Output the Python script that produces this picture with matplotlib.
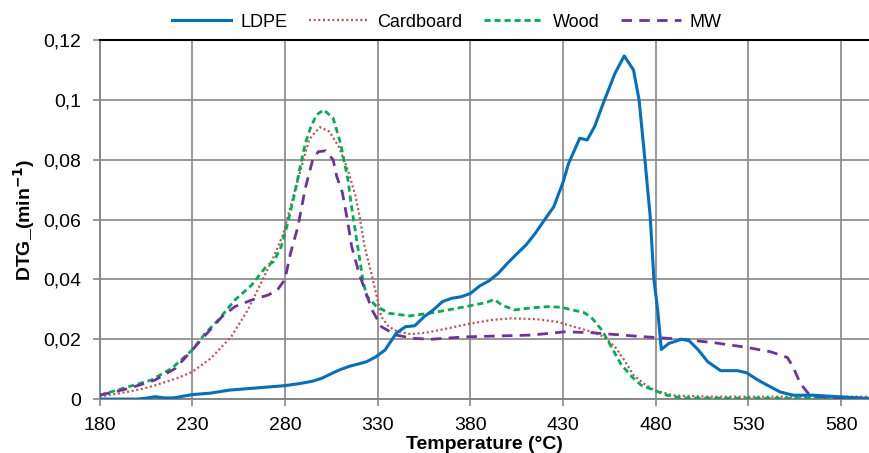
import matplotlib
matplotlib.use('Agg')
from matplotlib import pyplot as plt
from matplotlib.ticker import FuncFormatter

plt.rcParams['font.family'] = ['Liberation Sans', 'DejaVu Sans']

# LDPE
ldpe_t = [180, 190, 200, 205, 210, 215, 220, 230, 240, 250, 260, 270, 280, 288, 295, 300, 305, 310, 315, 320,
          324, 329, 334, 340, 345, 350, 355, 360, 365, 370, 375, 380, 385, 390, 395, 400, 405, 410, 415, 420,
          425, 430, 433, 439, 443, 447, 452, 458, 463, 468, 471, 474, 477, 479, 481, 483, 487, 494, 498, 503,
          508, 515, 524, 529, 535, 540, 547, 554, 565, 578, 595]
ldpe_v = [0, 0, 0, 0.0003, 0.0008, 0.0004, 0.0004, 0.0015, 0.002, 0.003, 0.0035, 0.004, 0.0045, 0.0052, 0.006,
          0.007, 0.0085, 0.0099, 0.011, 0.0118, 0.0125, 0.0141, 0.0164, 0.022, 0.0242, 0.0245, 0.0275, 0.0298,
          0.0326, 0.0337, 0.0342, 0.0353, 0.0378, 0.0395, 0.042, 0.0454, 0.0485, 0.0515, 0.0554, 0.0599, 0.0643,
          0.0725, 0.0788, 0.0872, 0.0866, 0.0911, 0.0994, 0.1089, 0.1147, 0.110, 0.100, 0.081, 0.061, 0.040,
          0.030, 0.0166, 0.0186, 0.020, 0.0195, 0.0164, 0.0125, 0.0095, 0.0095, 0.0088, 0.0064, 0.0047, 0.0024,
          0.0013, 0.0013, 0.0008, 0.0002]

# Cardboard
card_t = [180, 195, 205, 213, 222, 230, 240, 251, 260, 267, 274, 279, 282, 285, 288, 293, 296, 299, 304, 309,
          314, 318, 320, 323, 327, 330, 332, 336, 341, 348, 356, 366, 379, 391, 402, 416, 427, 437, 447, 452,
          458, 463, 468, 474, 479, 490, 510, 540, 570, 595]
card_v = [0.0008, 0.0024, 0.0037, 0.0052, 0.007, 0.0091, 0.0136, 0.0208, 0.0298, 0.0387, 0.0476, 0.055, 0.062,
          0.069, 0.0755, 0.0866, 0.089, 0.0909, 0.0894, 0.0844, 0.0765, 0.068, 0.062, 0.051, 0.041, 0.033,
          0.0275, 0.0242, 0.0225, 0.0217, 0.0222, 0.0234, 0.0251, 0.0264, 0.027, 0.0267, 0.0258, 0.024, 0.0222,
          0.0208, 0.0175, 0.013, 0.008, 0.005, 0.003, 0.0012, 0.0008, 0.0008, 0.0008, 0.0008]

# Wood
wood_t = [180, 195, 208, 219, 230, 237, 244, 253, 262, 270, 274, 278, 281, 285, 288, 291, 294, 297, 301, 306,
          310, 314, 316, 319, 322, 324, 329, 336, 347, 358, 368, 379, 388, 393, 397, 404, 413, 422, 429, 435,
          441, 445, 451, 456, 461, 467, 472, 479, 486, 494, 520, 560, 595]
wood_v = [0.0013, 0.004, 0.0064, 0.0103, 0.0164, 0.022, 0.0264, 0.0331, 0.0381, 0.0444, 0.046, 0.051, 0.0576,
          0.068, 0.077, 0.0855, 0.091, 0.095, 0.0967, 0.0939, 0.0855, 0.0732, 0.064, 0.052, 0.040, 0.0345,
          0.0312, 0.0287, 0.0278, 0.0287, 0.0298, 0.0311, 0.0322, 0.0333, 0.0314, 0.0298, 0.0305, 0.0309,
          0.0307, 0.0298, 0.029, 0.0275, 0.023, 0.0175, 0.0119, 0.0075, 0.0047, 0.003, 0.0013, 0.0004, 0.0003,
          0.0003, 0.0003]

# MW
mw_t = [180, 196, 210, 221, 230, 238, 246, 253, 262, 271, 276, 280, 283, 287, 291, 295, 298, 302, 306, 308,
        311, 314, 316, 320, 324, 327, 332, 340, 349, 359, 377, 395, 413, 431, 445, 460, 470, 494, 512, 529,
        542, 551, 554, 558, 563, 574, 595]
mw_v = [0.0013, 0.0036, 0.0064, 0.0103, 0.0164, 0.022, 0.0275, 0.0309, 0.0331, 0.0348, 0.0365, 0.040, 0.0487,
        0.0576, 0.0705, 0.080, 0.0827, 0.083, 0.080, 0.0743, 0.069, 0.0588, 0.051, 0.042, 0.035, 0.0298,
        0.0242, 0.0214, 0.0203, 0.020, 0.0208, 0.0211, 0.0214, 0.0225, 0.0222, 0.0215, 0.021, 0.020, 0.0188,
        0.0173, 0.0158, 0.0139, 0.0108, 0.0052, 0.0013, 0.0004, 0.0003]

x_ticks = [180, 230, 280, 330, 380, 430, 480, 530, 580]
y_ticks = [0, 0.02, 0.04, 0.06, 0.08, 0.1, 0.12]

grey = '#868686'

fig = plt.figure(figsize=(8.69, 4.53), dpi=100)
ax = fig.add_axes([0.1145, 0.119, 0.8855, 0.7925])

ax.plot(ldpe_t, ldpe_v, color='#0070C0', lw=2.2, label='LDPE', zorder=5)
ax.plot(card_t, card_v, color='#C0504D', lw=1.6, linestyle=(0, (0.9, 1.2)), label='Cardboard', zorder=4)
ax.plot(wood_t, wood_v, color='#00B050', lw=2.0, linestyle=(0, (2.2, 1.4)), label='Wood', zorder=4)
ax.plot(mw_t, mw_v, color='#7030A0', lw=2.0, linestyle=(0, (3.8, 2.6)), label='MW', zorder=4)

ax.set_xlim(180, 595)
ax.set_ylim(0, 0.12)
ax.set_xticks(x_ticks)
ax.set_yticks(y_ticks)
ax.yaxis.set_major_formatter(FuncFormatter(lambda v, p: '0' if v == 0 else f'{v:g}'.replace('.', ',')))

ax.grid(True, color=grey, lw=1.2)
ax.set_axisbelow(True)
for side in ['left', 'bottom']:
    ax.spines[side].set_color(grey)
    ax.spines[side].set_linewidth(1.4)
ax.spines['right'].set_visible(False)
ax.spines['top'].set_color('black')
ax.spines['top'].set_linewidth(1.5)
ax.tick_params(axis='both', colors=grey, labelcolor='black', labelsize=14, length=5, width=1.2, pad=8)

ax.set_xlabel('Temperature (°C)', fontsize=14, fontweight='bold', labelpad=1)
ax.set_ylabel('DTG_(min$^{\\mathbf{-1}}$)', fontsize=14, fontweight='bold', labelpad=5)

fig.legend(loc='center', bbox_to_anchor=(0.514, 0.951), ncol=4, frameon=False, fontsize=13,
           handlelength=3.3, handletextpad=0.5, columnspacing=1.2)

fig.savefig('out.png', dpi=100)
